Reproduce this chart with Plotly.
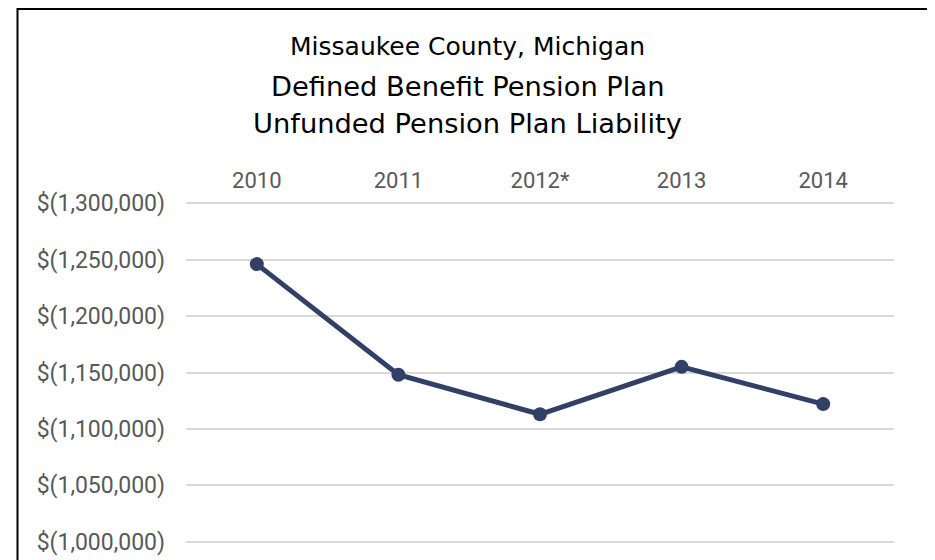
import plotly.graph_objects as go

years = ["2010", "2011", "2012*", "2013", "2014"]
liability = [-1246000, -1148000, -1113000, -1155000, -1122000]
tick_vals = [-1300000, -1250000, -1200000, -1150000, -1100000, -1050000, -1000000]
tick_text = ["$(1,300,000)", "$(1,250,000)", "$(1,200,000)", "$(1,150,000)",
             "$(1,100,000)", "$(1,050,000)", "$(1,000,000)"]
title_lines = ["Missaukee County, Michigan", "Defined Benefit Pension Plan",
               "Unfunded Pension Plan Liability"]

W, H = 935, 560
L, R, T, B = 178, 49, 194, 25
pw, ph = W - L - R, H - T - B
OFF = 8  # page body offset

def px(x):
    return (x - OFF - L) / pw

def py(y):
    return (H - B - (y - OFF)) / ph

fig = go.Figure()
fig.add_trace(go.Scatter(
    x=years, y=liability, mode="lines+markers",
    line=dict(color="#323F67", width=5),
    marker=dict(color="#323F67", size=14),
    showlegend=False, cliponaxis=False,
))

fig.update_layout(
    width=W, height=H,
    margin=dict(l=L, r=R, t=T, b=B, autoexpand=False),
    paper_bgcolor="white", plot_bgcolor="white",
    font=dict(family="Roboto", color="#595959", size=22),
    xaxis=dict(side="top", showgrid=False, zeroline=False, showline=False,
               ticks="", ticklabelstandoff=9, automargin=False,
               tickfont=dict(family="Roboto", size=22, color="#595959"),
               range=[-0.5, 4.5]),
    yaxis=dict(range=[-999000, -1301000], tickvals=tick_vals, ticktext=tick_text,
               showgrid=True, gridcolor="#D9D9D9", gridwidth=1.5,
               zeroline=False, showline=False, ticks="", ticklabelstandoff=20,
               automargin=False,
               tickfont=dict(family="Roboto", size=23, color="#595959")),
)

cx = px(467.5)
sizes = [25, 27.3, 27.3]
ys = [46, 86, 123]
for txt, s, yy in zip(title_lines, sizes, ys):
    fig.add_annotation(text=txt, xref="paper", yref="paper", x=cx, y=py(yy),
                       xanchor="center", yanchor="middle", showarrow=False,
                       font=dict(family="DejaVu Sans", size=s, color="black"))

fig.add_shape(type="rect", xref="paper", yref="paper",
              x0=px(17.5), x1=px(929.5), y0=py(600), y1=py(9),
              line=dict(color="black", width=2), fillcolor="rgba(0,0,0,0)")

fig.write_html("out.html")
